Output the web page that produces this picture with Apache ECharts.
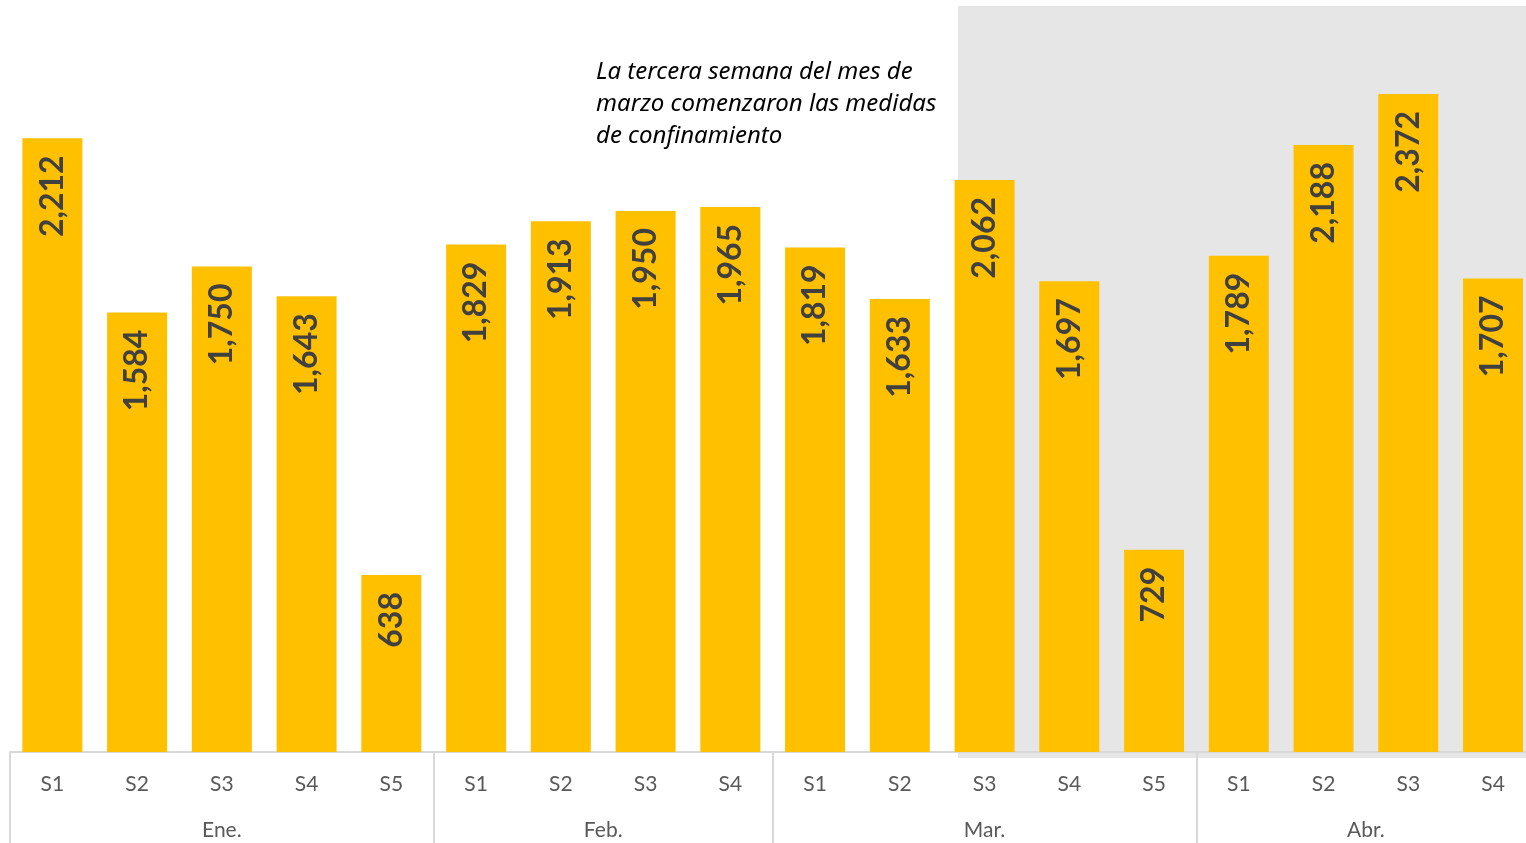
<!DOCTYPE html>
<html>
<head>
<meta charset="utf-8">
<script src="https://cdn.jsdelivr.net/npm/echarts@6/dist/echarts.min.js"></script>
<style>html,body{margin:0;padding:0;background:#fff;}#c{width:1526px;height:843px;}</style>
</head>
<body>
<div id="c"></div>
<script>
const weeks = ['S1','S2','S3','S4','S5','S1','S2','S3','S4','S1','S2','S3','S4','S5','S1','S2','S3','S4'];
const values = [2212,1584,1750,1643,638,1829,1913,1950,1965,1819,1633,2062,1697,729,1789,2188,2372,1707];
const months = ['Ene.','Feb.','Mar.','Abr.'];
const monthCenters = [2.5, 7, 11.5, 16];
const monthBounds = [0, 5, 9, 14, 18];
const note = 'La tercera semana del mes de\nmarzo comenzaron las medidas\nde confinamiento';

const chart = echarts.init(document.getElementById('c'));
const FONT = 'Lato';
chart.setOption({
  animation: false,
  backgroundColor: '#ffffff',
  graphic: [
    { type: 'rect', z: -10, silent: true, left: 958, top: 6, shape: { width: 568, height: 752 }, style: { fill: '#e7e6e6' } },
    { type: 'text', left: 596, top: 56, z: 10, style: { text: note, font: 'italic 24px "Noto Sans"', fill: '#000000', lineHeight: 32 } }
  ],
  grid: { left: 10, width: 1525.4, top: 3, height: 749, containLabel: false, outerBoundsMode: 'none' },
  xAxis: [
    {
      type: 'category', data: weeks,
      axisLine: { show: true, lineStyle: { color: '#d9d9d9', width: 2 } },
      axisTick: { show: false },
      axisLabel: { color: '#595959', fontFamily: FONT, fontSize: 21, margin: 22 }
    },
    {
      type: 'value', min: 0, max: 18, position: 'bottom',
      axisLine: { show: false },
      splitLine: { show: false },
      axisTick: { show: true, customValues: monthBounds, length: 92, lineStyle: { color: '#d9d9d9', width: 2 } },
      axisLabel: { customValues: monthCenters, color: '#595959', fontFamily: FONT, fontSize: 21, margin: 68,
        formatter: v => months[monthCenters.indexOf(v)] }
    }
  ],
  yAxis: { type: 'value', min: 0, max: 2700, show: false, splitLine: { show: false } },
  series: [{
    type: 'bar', data: values, xAxisIndex: 0, barWidth: 60,
    itemStyle: { color: '#FFC000' },
    label: {
      show: true, position: 'insideTop', rotate: 90, align: 'right', verticalAlign: 'middle', distance: 17,
      color: '#404040', fontFamily: FONT, fontWeight: 'bold', fontSize: 32,
      formatter: p => p.value.toLocaleString('en-US')
    }
  }]
});
</script>
</body>
</html>
